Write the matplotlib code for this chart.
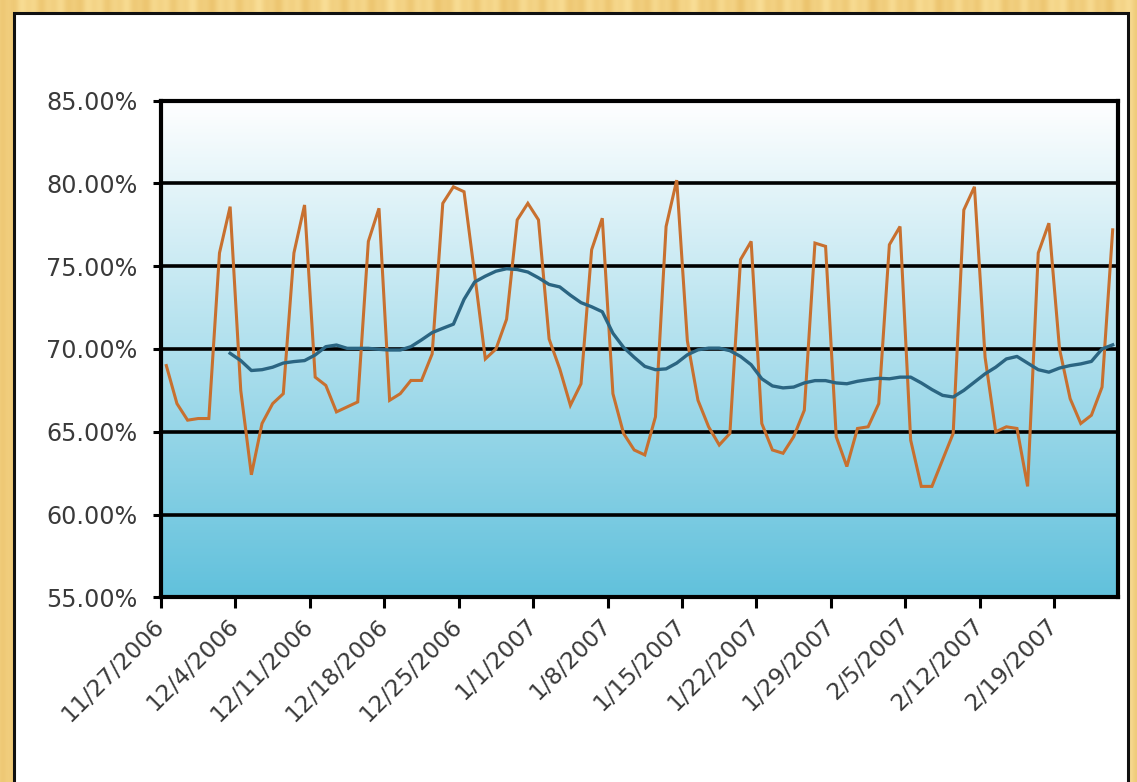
import matplotlib
matplotlib.use("Agg")
import matplotlib.pyplot as plt
import matplotlib.dates as mdates
import numpy as np
from datetime import datetime, timedelta
from matplotlib.patches import Rectangle
from matplotlib.ticker import FixedLocator, FixedFormatter

# ---------------- data ----------------
start_date = "11/27/2006"
occupancy = [69.0, 66.7, 65.7, 65.8, 65.8, 75.8, 78.6,
             67.5, 62.4, 65.5, 66.7, 67.3, 75.8, 78.7,
             68.3, 67.8, 66.2, 66.5, 66.8, 76.5, 78.5,
             66.9, 67.3, 68.1, 68.1, 69.7, 78.8, 79.8,
             79.5, 74.5, 69.4, 70.0, 71.8, 77.8, 78.8,
             77.8, 70.6, 68.8, 66.6, 67.9, 76.0, 77.9,
             67.3, 64.9, 63.9, 63.6, 65.9, 77.4, 80.2,
             70.5, 66.9, 65.3, 64.2, 64.9, 75.4, 76.5,
             65.5, 63.9, 63.7, 64.7, 66.3, 76.4, 76.2,
             64.7, 62.9, 65.2, 65.3, 66.7, 76.3, 77.4,
             64.5, 61.7, 61.7, 63.3, 64.9, 78.4, 79.8,
             69.5, 65.0, 65.3, 65.2, 61.7, 75.8, 77.6,
             70.0, 67.0, 65.5, 66.0, 67.7, 77.2]
moving_avg_first_day = 6
moving_avg = [69.74, 69.3, 68.7, 68.75, 68.9, 69.15, 69.24, 69.3, 69.64, 70.14,
              70.24, 70.04, 70.04, 70.04, 69.98, 69.94, 69.94, 70.14, 70.55, 70.99,
              71.25, 71.5, 73.0, 74.05, 74.4, 74.7, 74.85, 74.8, 74.65, 74.3,
              73.9, 73.75, 73.25, 72.8, 72.55, 72.25, 70.95, 70.1, 69.5, 68.95,
              68.75, 68.8, 69.15, 69.65, 69.95, 70.05, 70.05, 69.9, 69.55, 69.05,
              68.2, 67.77, 67.65, 67.7, 67.95, 68.09, 68.09, 67.95, 67.9, 68.05,
              68.15, 68.23, 68.2, 68.3, 68.3, 67.95, 67.55, 67.2, 67.1, 67.5,
              68.0, 68.5, 68.9, 69.4, 69.55, 69.15, 68.75, 68.6, 68.85, 69.0,
              69.1, 69.25, 70.0, 70.25]
x_tick_labels = ["11/27/2006", "12/4/2006", "12/11/2006", "12/18/2006",
                 "12/25/2006", "1/1/2007", "1/8/2007", "1/15/2007",
                 "1/22/2007", "1/29/2007", "2/5/2007", "2/12/2007", "2/19/2007"]
y_tick_values = [55, 60, 65, 70, 75, 80, 85]
y_tick_labels = ["55.00%", "60.00%", "65.00%", "70.00%", "75.00%", "80.00%", "85.00%"]

# ---------------- figure ----------------
W, H = 1137, 782
fig = plt.figure(figsize=(W / 100, H / 100), dpi=100)

# golden striped backdrop
bg = fig.add_axes([0, 0, 1, 1], zorder=-10)
xx = np.arange(W)
stripe = (0.5 + 0.25 * np.sin(xx / 5.3) + 0.15 * np.sin(xx / 2.1 + 1.0)
          + 0.1 * np.sin(xx / 11.7 + 2.0))
stripe = np.clip(stripe, 0, 1)
light = np.array([249, 222, 150]) / 255.0
dark = np.array([236, 196, 110]) / 255.0
row = light[None, :] * (1 - stripe[:, None]) + dark[None, :] * stripe[:, None]
tex = np.repeat(row[None, :, :], 20, axis=0)
bg.imshow(tex, aspect="auto", extent=[0, 1, 0, 1], interpolation="bilinear")
bg.set_xlim(0, 1)
bg.set_ylim(0, 1)
bg.axis("off")

# white chart area with dark border
fig.patches.append(Rectangle((14 / W, -0.05), (1128 - 14) / W, (H - 13) / H + 0.05,
                             transform=fig.transFigure, facecolor="white",
                             edgecolor="#111111", linewidth=2.2, zorder=-5))

# plot area
left, right, top, bottom = 161, 1118, 100.7, 597.3
ax = fig.add_axes([left / W, (H - bottom) / H, (right - left) / W, (bottom - top) / H])

grad = np.linspace(0, 1, 256)[:, None]
top_c = np.array([1.0, 1.0, 1.0])
bot_c = np.array([97, 193, 220]) / 255.0
g = top_c[None, None, :] * (1 - grad[:, :, None]) + bot_c[None, None, :] * grad[:, :, None]
ax.imshow(g, aspect="auto", extent=[0, 1, 0, 1], transform=ax.transAxes,
          zorder=0, interpolation="bilinear")

start = datetime.strptime(start_date, "%m/%d/%Y")
dates = [start + timedelta(days=i) for i in range(len(occupancy))]
x_days = mdates.date2num(dates) + 0.5
x_ma = x_days[moving_avg_first_day:moving_avg_first_day + len(moving_avg)]

for yv in y_tick_values[1:-1]:
    ax.axhline(yv, color="black", lw=2.6, zorder=1)

ax.plot(x_days, occupancy, color="#C8702F", lw=2.2, zorder=3, solid_joinstyle="miter")
ax.plot(x_ma, moving_avg, color="#2B6582", lw=2.4, zorder=4)

tick_pos = mdates.date2num([datetime.strptime(t, "%m/%d/%Y") for t in x_tick_labels])
ax.set_xlim(mdates.date2num(start), mdates.date2num(start) + len(occupancy))
ax.set_ylim(55, 85)
ax.xaxis.set_major_locator(FixedLocator(tick_pos))
ax.xaxis.set_major_formatter(FixedFormatter(x_tick_labels))
ax.yaxis.set_major_locator(FixedLocator(y_tick_values))
ax.yaxis.set_major_formatter(FixedFormatter(y_tick_labels))

for s in ax.spines.values():
    s.set_linewidth(3)
    s.set_color("black")
    s.set_zorder(5)

txt_color = "#3a3a3a"
ax.tick_params(axis="y", direction="out", length=6, width=2.2, colors="black",
               labelcolor=txt_color, labelsize=17.2, pad=11)
ax.tick_params(axis="x", direction="out", length=8, width=2.2, colors="black",
               labelcolor=txt_color, labelsize=16.8, pad=10)
for lab in ax.get_xticklabels():
    lab.set_rotation(45)
    lab.set_ha("right")
    lab.set_va("center")
    lab.set_rotation_mode("anchor")

fig.savefig("out.png", dpi=100)
